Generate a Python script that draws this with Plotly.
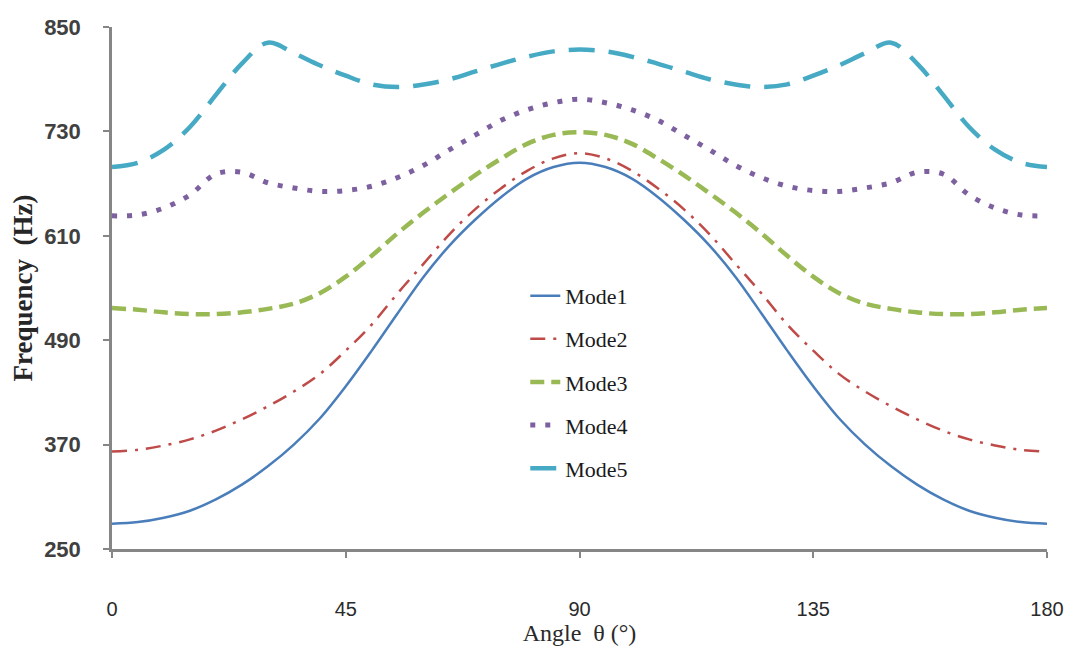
import plotly.graph_objects as go

angle = [0, 5, 10, 15, 20, 25, 30, 35, 40, 45, 50, 55, 60, 65, 70, 75, 80, 85, 90,
         95, 100, 105, 110, 115, 120, 125, 130, 135, 140, 145, 150, 155, 160, 165, 170, 175, 180]

mode1 = [279, 281, 286, 294, 307, 324, 345, 370, 400, 437, 478, 521, 563, 599, 629, 655, 676, 689, 694,
         689, 676, 655, 629, 599, 563, 521, 478, 437, 400, 370, 345, 324, 307, 294, 286, 281, 279]
mode2 = [362, 364, 369, 376, 386, 399, 414, 431, 451, 478, 508, 544, 578, 612, 641, 665, 685, 699, 705,
         699, 685, 665, 641, 612, 578, 544, 508, 478, 451, 431, 414, 399, 386, 376, 369, 364, 362]
mode3 = [527, 525, 522, 520, 520, 522, 526, 532, 544, 563, 587, 613, 637, 659, 680, 699, 716, 726, 729,
         726, 716, 699, 680, 659, 637, 613, 587, 563, 544, 532, 526, 522, 520, 520, 522, 525, 527]
mode4 = [633, 634, 642, 657, 681, 683, 671, 665, 661, 662, 667, 677, 691, 709, 726, 743, 755, 763, 767,
         763, 755, 743, 726, 709, 691, 677, 667, 662, 661, 665, 671, 683, 681, 657, 642, 634, 633]
mode5 = [689, 694, 709, 735, 772, 808, 832, 820, 806, 794, 784, 781, 784, 790, 799, 808, 816, 822, 824,
         822, 816, 808, 799, 790, 784, 781, 784, 794, 806, 820, 832, 808, 772, 735, 709, 694, 689]

names = ["Mode1", "Mode2", "Mode3", "Mode4", "Mode5"]
colors = ["#4A7EBB", "#BE4B48", "#98B954", "#7D60A0", "#46AAC5"]
widths = [2.5, 2.5, 4.5, 5, 4.5]
dashes = ["solid", "15px,8px,3px,8px", "14px,7px", "5px,10px", "26px,14px"]

y_ticks = [250, 370, 490, 610, 730, 850]
x_ticks = [0, 45, 90, 135, 180]

fig = go.Figure()
for i, vals in enumerate([mode1, mode2, mode3, mode4, mode5]):
    fig.add_trace(go.Scatter(
        x=angle, y=vals, mode="lines", name=names[i], legendgroup=names[i],
        line=dict(color=colors[i], width=widths[i], dash=dashes[i], shape="spline", smoothing=1.0),
    ))

axis_color = "#868686"
fig.update_layout(
    width=1073, height=649,
    margin=dict(l=104, r=34, t=19, b=108, autoexpand=False),
    plot_bgcolor="white", paper_bgcolor="white",
    showlegend=True,
    legend=dict(x=0.442, y=0.525, xanchor="left", yanchor="top",
                font=dict(family="Liberation Serif", size=22, color="#1a1a1a"),
                tracegroupgap=11.5, bgcolor="rgba(0,0,0,0)"),
    xaxis=dict(range=[0, 180], tickvals=x_ticks, ticktext=[str(v) for v in x_ticks],
               showgrid=False, zeroline=False, showline=True, linecolor=axis_color, linewidth=2.5,
               ticks="outside", ticklen=6, tickwidth=2, tickcolor=axis_color, automargin=False,
               ticklabelstandoff=34,
               tickfont=dict(family="Liberation Sans", size=20, color="#2a2a2a"),
               title=dict(text="Angle  θ (°)", font=dict(family="Liberation Serif", size=24, color="#2a2a2a"), standoff=4)),
    yaxis=dict(range=[250, 850], tickvals=y_ticks, ticktext=[str(v) for v in y_ticks],
               showgrid=False, zeroline=False, showline=True, linecolor=axis_color, linewidth=2.5,
               ticks="outside", ticklen=6, tickwidth=2, tickcolor=axis_color, automargin=False,
               ticklabelstandoff=18,
               tickfont=dict(family="Liberation Sans", size=22, color="#404040", weight="bold"),
               title=dict(text="Frequency  (Hz)", font=dict(family="Liberation Serif", size=27, color="#262626", weight="bold"), standoff=8)),
)

fig.write_html("out.html")
